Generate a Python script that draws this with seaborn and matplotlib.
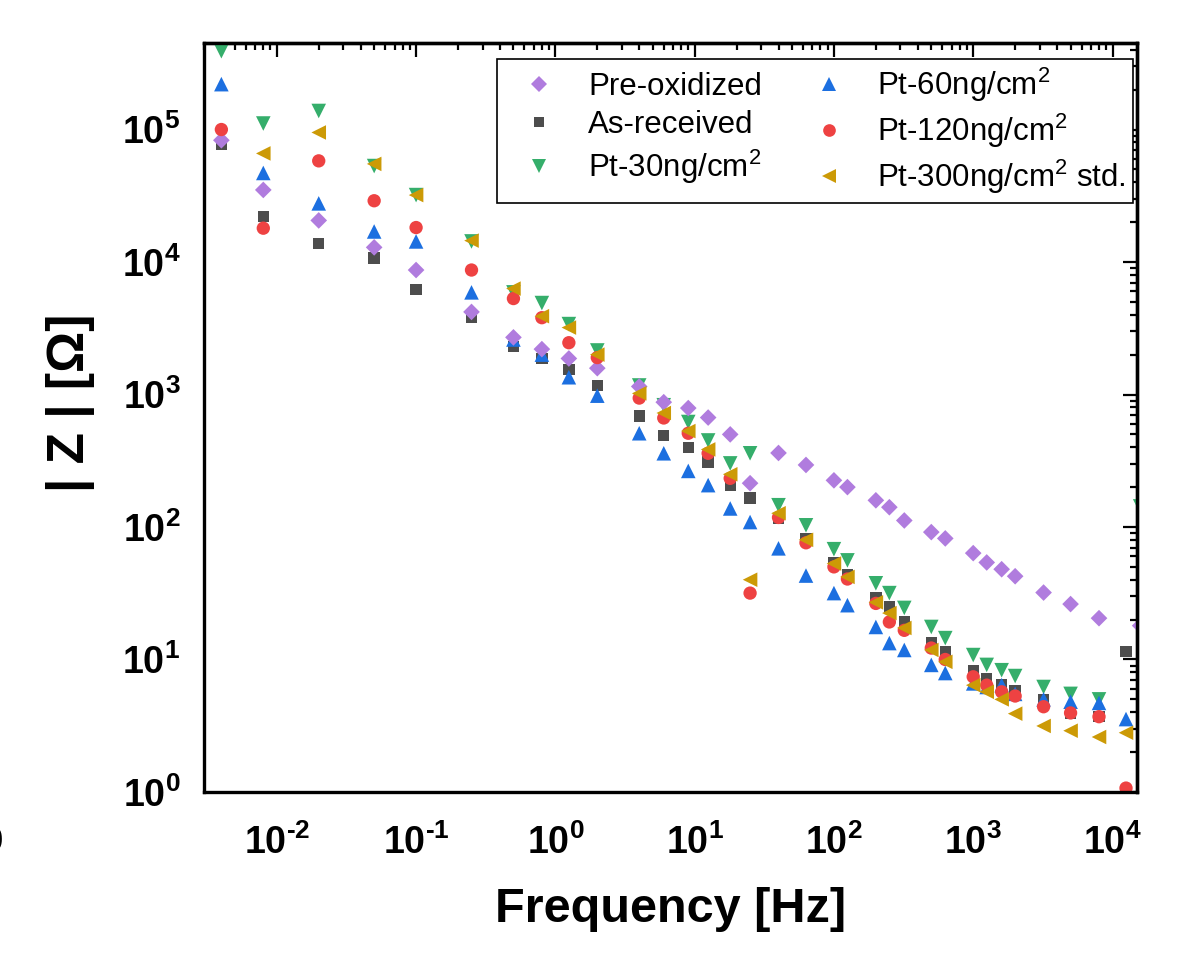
import numpy as np
import pandas as pd
import matplotlib
matplotlib.use("Agg")
import matplotlib.pyplot as plt
import seaborn as sns
from matplotlib.ticker import FuncFormatter, LogLocator, NullFormatter

nan = np.nan

# ---------------- data ----------------
freq = [0.004, 0.008, 0.02, 0.05, 0.1, 0.25, 0.5, 0.8, 1.25, 2, 4, 6, 9, 12.5, 18, 25,
        40, 63, 100, 125, 200, 250, 320, 500, 630, 1000, 1250, 1600, 2000, 3200, 5000,
        8000, 12500, 15800]

pre_oxidized = [8.3e4, 3.5e4, 2.06e4, 1.29e4, 8.7e3, 4.2e3, 2.7e3, 2.2e3, 1.87e3, 1.58e3,
                1.15e3, 875, 790, 670, 500, 214, 362, 294, 225, 200, 159, 141, 112, 91.5,
                82, 63.5, 54, 48, 42.5, 32, 26.2, 20.5, 0.98, 18]
as_received = [7.8e4, 2.2e4, 1.38e4, 1.07e4, 6.2e3, 3.8e3, 2.3e3, 1.87e3, 1.55e3, 1.17e3,
               690, 490, 400, 310, 207, 165, 116, 81, 54, 43.4, 29.5, 25, 19.2, 13.5,
               11.5, 8.3, 7.2, 6.5, 5.8, 5.0, 3.95, 3.7, 11.5, nan]
pt30 = [3.9e5, 1.11e5, 1.38e5, 5.3e4, 3.2e4, 1.43e4, 5.9e3, 4.9e3, 3.4e3, 2.15e3,
        1.17e3, 830, 620, 450, 302, 360, 146, 103, 68, 56, 37.6, 31.7, 24.5, 17.6,
        14.5, 10.8, 9.1, 8.3, 7.5, 6.2, 5.5, 5.0, nan, 143]
pt60 = [2.2e5, 4.7e4, 2.77e4, 1.7e4, 1.43e4, 5.9e3, 2.6e3, 2.0e3, 1.35e3, 980,
        510, 360, 265, 207, 138, 109, 69, 43, 31.7, 25.7, 17.6, 13.3, 11.8, 9.1,
        7.9, 6.6, 6.2, 6.4, 5.5, 5.0, 4.8, 4.7, 3.55, nan]
pt120 = [1.0e5, 1.8e4, 5.8e4, 2.9e4, 1.82e4, 8.7e3, 5.3e3, 3.8e3, 2.46e3, 1.9e3,
         940, 665, 510, 360, 233, 31.7, 118, 76, 50, 40.5, 26.5, 19.2, 16.6, 12.2,
         10, 7.4, 6.4, 5.7, 5.3, 4.4, 3.95, 3.7, 1.07, nan]
pt300 = [nan, 6.6e4, 9.5e4, 5.5e4, 3.2e4, 1.45e4, 6.3e3, 3.9e3, 3.2e3, 2.0e3,
         1.02e3, 725, 530, 385, 250, 40, 127, 80, 53, 42, 27, 22.4, 17.3, 11.8,
         9.6, 6.4, 5.7, 5.0, 3.9, 3.15, 2.9, 2.6, 2.8, nan]

labels = ["Pre-oxidized", "As-received", "Pt-30ng/cm$^2$",
          "Pt-60ng/cm$^2$", "Pt-120ng/cm$^2$", "Pt-300ng/cm$^2$ std."]
values = [pre_oxidized, as_received, pt30, pt60, pt120, pt300]
colors = ["#B07CDE", "#4D4D4D", "#35AE6B", "#1C6FE0", "#EE4242", "#CC9A06"]
markers = ["D", "s", "v", "^", "o", "<"]
sizes = [72, 67, 110, 110, 92, 110]
draw_order = [1, 2, 3, 0, 4, 5]   # layering of the series

# ---------------- build table ----------------
frames = []
for i in draw_order:
    frames.append(pd.DataFrame({"Frequency": freq, "Z": values[i], "Sample": labels[i]}))
df = pd.concat(frames, ignore_index=True).dropna()

# ---------------- style ----------------
sns.set_theme(style="white")
plt.rcParams["font.family"] = ["Liberation Sans", "DejaVu Sans"]
plt.rcParams["mathtext.fontset"] = "custom"
plt.rcParams["mathtext.rm"] = "Liberation Sans"
plt.rcParams["mathtext.bf"] = "Liberation Sans:bold"
plt.rcParams["mathtext.default"] = "rm"
for k in ["text.color", "axes.labelcolor", "xtick.color", "ytick.color", "axes.edgecolor"]:
    plt.rcParams[k] = "black"

fig = plt.figure(figsize=(11.97, 9.55), dpi=100)
ax = fig.add_axes([0.1704, 0.1707, 0.7795, 0.7843])

sns.scatterplot(data=df, x="Frequency", y="Z", hue="Sample", style="Sample", size="Sample",
                hue_order=labels, style_order=labels, size_order=labels,
                palette=dict(zip(labels, colors)), markers=dict(zip(labels, markers)),
                sizes=dict(zip(labels, sizes)), linewidth=0, alpha=1, ax=ax, legend=True)

ax.set_xscale("log")
ax.set_yscale("log")
ax.set_xlim(3.0e-3, 1.5e4)
ax.set_ylim(1.0, 4.5e5)


def log_label(v, p):
    e = int(round(np.log10(v)))
    es = ("\u2010%d" % -e) if e < 0 else "%d" % e
    return r"$\mathbf{10^{%s}}$" % es


fmt = FuncFormatter(log_label)
ax.xaxis.set_major_locator(LogLocator(base=10, numticks=20))
ax.yaxis.set_major_locator(LogLocator(base=10, numticks=20))
ax.xaxis.set_minor_locator(LogLocator(base=10, subs=np.arange(2, 10), numticks=20))
ax.yaxis.set_minor_locator(LogLocator(base=10, subs=np.arange(2, 10), numticks=20))
ax.xaxis.set_major_formatter(fmt)
ax.yaxis.set_major_formatter(fmt)
ax.xaxis.set_minor_formatter(NullFormatter())
ax.yaxis.set_minor_formatter(NullFormatter())

ax.tick_params(which="both", direction="out", top=False, right=False, color="black",
               labelcolor="black", labelsize=27, width=1.6)
ax.tick_params(which="major", length=10)
ax.tick_params(which="minor", length=5)
ax.tick_params(axis="x", pad=13)
ax.tick_params(axis="y", pad=7)

for s in ax.spines.values():
    s.set_linewidth(2.4)
    s.set_color("black")

# inward ticks on the top and right
secx = ax.secondary_xaxis("top")
secx.tick_params(which="both", direction="in", labeltop=False, width=1.6, color="black")
secx.tick_params(which="major", length=10)
secx.tick_params(which="minor", length=5)
secx.xaxis.set_minor_formatter(NullFormatter())
secx.spines["top"].set_linewidth(2.4)
secy = ax.secondary_yaxis("right")
secy.tick_params(which="both", direction="in", labelright=False, width=1.6, color="black")
secy.tick_params(which="major", length=10)
secy.tick_params(which="minor", length=5)
secy.yaxis.set_minor_formatter(NullFormatter())
secy.spines["right"].set_linewidth(2.4)

ax.set_xlabel("Frequency [Hz]", fontsize=35, fontweight="bold", labelpad=18)
ax.set_ylabel("| Z | [Ω]", fontsize=37, fontweight="bold")
ax.yaxis.set_label_coords(-0.117, 0.519)

sns.move_legend(ax, "upper right", bbox_to_anchor=(0.9957, 0.979), ncol=2, title=None,
                frameon=True, fancybox=False, framealpha=1, edgecolor="black",
                fontsize=22.5, markerscale=0.95, borderaxespad=0, handlelength=2.3,
                handletextpad=0.4, columnspacing=1.0, labelspacing=0.25, borderpad=0.22)
ax.get_legend().get_frame().set_linewidth(1.2)

fig.text(0.0025, 0.119, "0", ha="right", va="center", fontsize=25, fontweight="bold")

fig.savefig("out.png", dpi=100)
